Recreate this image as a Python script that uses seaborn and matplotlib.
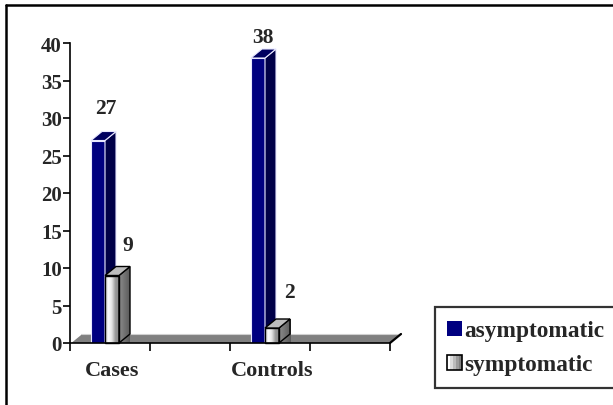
import numpy as np
import pandas as pd
import seaborn as sns
import matplotlib.pyplot as plt
from matplotlib.patches import Polygon, Rectangle
from matplotlib.lines import Line2D
from matplotlib.colors import LinearSegmentedColormap
from matplotlib.legend_handler import HandlerBase

# ---- data ----
groups = ["Cases", "Controls"]
series = ["asymptomatic", "symptomatic"]
asymptomatic = [27, 38]
symptomatic = [9, 2]
yticks = [0, 5, 10, 15, 20, 25, 30, 35, 40]

df = pd.DataFrame({
    "group": groups * 2,
    "status": [series[0]] * len(groups) + [series[1]] * len(groups),
    "count": asymptomatic + symptomatic,
})

# ---- style ----
W, H = 613, 406
sns.set_style("white")
plt.rcParams["font.family"] = ["Liberation Serif", "DejaVu Serif"]
plt.rcParams["font.weight"] = "bold"

navy_front, navy_side, navy_top = "#000080", "#000048", "#000060"
grey_cmap = LinearSegmentedColormap.from_list(
    "bevel", ["#c4c4c4", "#ffffff", "#e2e2e2", "#9a9a9a", "#8a8a8a"])
side_cmap = LinearSegmentedColormap.from_list("side", ["#8c8c8c", "#5a5a5a"])

fig = plt.figure(figsize=(W / 100, H / 100), dpi=100)
ax = fig.add_axes([70 / W, 1 - 344 / H, 320 / W, 300 / H])

sns.barplot(data=df, x="group", y="count", hue="status", order=groups,
            hue_order=series, palette=[navy_front, "#d0d0d0"],
            width=0.175, gap=0, legend=False, ax=ax)

# category axis: group centre sits 35 px right of the axis start, 160 px per group
xl, xr = -35 / 160, 285 / 160
yl, yh = 0, 40
dx, dy = 11 / 160, 9 / 7.5          # oblique depth of the pseudo-3D boxes

# floor
floor = Polygon([(xl, 0), (xr, 0), (xr + dx, dy), (xl + dx, dy)],
                closed=True, facecolor="#808080", edgecolor="none",
                zorder=1, clip_on=False)
ax.add_patch(floor)
ax.plot([xl, xl + dx], [0, dy], color="white", lw=1.2, zorder=1.1, clip_on=False)
ax.plot([xl + dx, xr + dx], [dy, dy], color="#d0d0d0", lw=0.8, zorder=1.1, clip_on=False)
ax.plot([xr, xr + dx], [0, dy], color="black", lw=1.6, zorder=1.2, clip_on=False)

# boxes
for k, cont in enumerate(ax.containers):
    z = 2 + k
    for bar in cont:
        x0, w, h = bar.get_x(), bar.get_width(), bar.get_height()
        side = Polygon([(x0 + w, 0), (x0 + w + dx, dy), (x0 + w + dx, h + dy), (x0 + w, h)],
                       closed=True, zorder=z, clip_on=False)
        top = Polygon([(x0, h), (x0 + w, h), (x0 + w + dx, h + dy), (x0 + dx, h + dy)],
                      closed=True, zorder=z, clip_on=False)
        bar.set_zorder(z)
        bar.set_clip_on(False)
        if k == 0:
            bar.set_facecolor(navy_front)
            bar.set_edgecolor("#e8e8ff")
            bar.set_linewidth(0.8)
            side.set_facecolor(navy_side)
            side.set_edgecolor("#e8e8ff")
            side.set_linewidth(0.8)
            top.set_facecolor(navy_top)
            top.set_edgecolor("#e8e8ff")
            top.set_linewidth(0.8)
            ax.add_patch(side)
            ax.add_patch(top)
        else:
            bar.set_facecolor("none")
            bar.set_edgecolor("black")
            bar.set_linewidth(1.0)
            grad = np.linspace(0, 1, 64).reshape(1, -1)
            im = ax.imshow(grad, cmap=grey_cmap, aspect="auto",
                           extent=[x0, x0 + w, 0, h], zorder=z - 0.01, clip_on=False)
            im.set_clip_path(bar)
            side.set_facecolor("none")
            side.set_edgecolor("black")
            side.set_linewidth(1.0)
            ax.add_patch(side)
            im2 = ax.imshow(grad, cmap=side_cmap, aspect="auto",
                            extent=[x0 + w, x0 + w + dx, 0, h + dy], zorder=z - 0.01,
                            clip_on=False)
            im2.set_clip_path(side)
            top.set_facecolor("#bdbdbd")
            top.set_edgecolor("black")
            top.set_linewidth(1.0)
            ax.add_patch(top)

# value labels (offsets in pixels from the top-front centre of each box)
label_offsets = [[(8, 32), (5, 21)], [(16, 30), (17, 36)]]
for k, cont in enumerate(ax.containers):
    for j, bar in enumerate(cont):
        h = bar.get_height()
        ox, oy = label_offsets[k][j]
        ax.annotate(f"{h:g}", (bar.get_x() + bar.get_width() / 2, h),
                    xytext=(ox, oy), textcoords="offset pixels",
                    ha="center", va="center", fontsize=15.5, fontweight="bold",
                    annotation_clip=False, zorder=10)

ax.set_xlim(xl, xr)
ax.set_ylim(yl, yh)
ax.set_yticks(yticks)
ax.set_yticklabels([str(t) for t in yticks], fontsize=15, fontweight="bold")
ax.set_xticks([(p - 105) / 160 for p in (70, 150, 230, 310, 390)])
ax.set_xticklabels([])
ax.set_xticks([i + 0.045 for i in range(len(groups))], minor=True)
ax.set_xticklabels(groups, minor=True, fontsize=16, fontweight="bold")
ax.tick_params(axis="x", which="major", bottom=True, length=6, width=1.2,
               direction="out", color="black")
ax.tick_params(axis="x", which="minor", bottom=True, length=0, pad=12)
ax.tick_params(axis="y", left=True, length=5, width=1.2, direction="out",
               color="black", pad=1)
ax.set_xlabel("")
ax.set_ylabel("")
for s in ("top", "right"):
    ax.spines[s].set_visible(False)
for s in ("left", "bottom"):
    ax.spines[s].set_color("black")
    ax.spines[s].set_linewidth(1.2)
    ax.spines[s].set_zorder(5)
ax.patch.set_alpha(0)


# legend with a bevelled grey swatch
class GradientHandler(HandlerBase):
    def create_artists(self, legend, orig, xd, yd, width, height, fontsize, trans):
        s = height * 1.0
        x = xd + width - s
        cols = ["#ffffff", "#dcdcdc", "#bcbcbc", "#9c9c9c", "#808080"]
        arts = []
        for i, c in enumerate(cols):
            arts.append(Rectangle((x + i * s / len(cols), yd), s / len(cols), s,
                                  facecolor=c, edgecolor="none", transform=trans))
        arts.append(Rectangle((x, yd), s, s, facecolor="none", edgecolor="black",
                              lw=1.2, transform=trans))
        return arts


class SquareHandler(HandlerBase):
    def create_artists(self, legend, orig, xd, yd, width, height, fontsize, trans):
        s = height * 1.0
        x = xd + width - s
        return [Rectangle((x, yd), s, s, facecolor=navy_front, edgecolor="none",
                          transform=trans)]


h_asym = Rectangle((0, 0), 1, 1)
h_sym = Rectangle((0, 0), 1, 1)
leg = fig.legend([h_asym, h_sym], series,
                 handler_map={h_asym: SquareHandler(), h_sym: GradientHandler()},
                 loc="upper left",
                 bbox_to_anchor=(435 / W, 1 - 308 / H - 0.01, 200 / W, 0.01),
                 mode="expand", fancybox=False, frameon=True, borderaxespad=0,
                 prop={"weight": "bold", "size": 16.8}, handlelength=0.62,
                 handleheight=0.62, handletextpad=0.1, labelspacing=0.55,
                 borderpad=0.55)
leg.get_frame().set_edgecolor("black")
leg.get_frame().set_linewidth(1.6)

# chart frame (runs off the right and bottom edges)
fig.add_artist(Line2D([6 / W, 1.01], [1 - 6 / H, 1 - 6 / H], color="black", lw=1.8))
fig.add_artist(Line2D([6 / W, 6 / W], [1 - 6 / H, -0.01], color="black", lw=1.8))

fig.savefig("out.png", dpi=100)
